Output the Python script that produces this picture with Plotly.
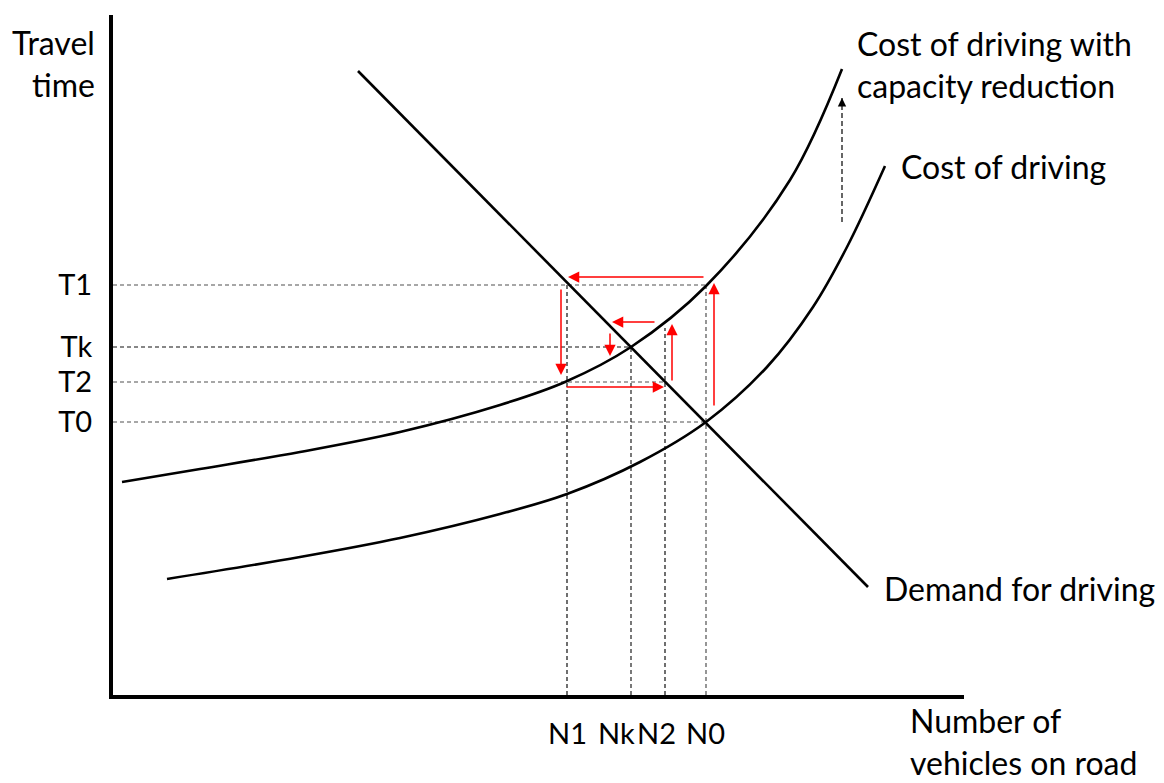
import plotly.graph_objects as go

# ---- schematic data (arbitrary units: x = vehicles on road, y = travel time) ----
N_LABELS = ["N1", "Nk", "N2", "N0"]
N_VALUES = [45.4, 51.8, 55.2, 59.3]
N_LABEL_SHIFT = [0, -15, -9, -1]

T_LABELS = ["T1", "Tk", "T2", "T0"]
T_VALUES = [41.0, 34.8, 31.3, 27.3]

# demand for driving (straight line)
demand_x = [24.5, 75.5]
demand_y = [62.4, 10.8]

# cost of driving
cost_x = [5.4, 18.7, 28.7, 38.7, 45.4, 52.7, 59.3, 65.4, 70.0, 73.4, 77.2]
cost_y = [11.6, 13.8, 15.7, 18.1, 20.1, 23.3, 27.3, 32.8, 38.8, 44.8, 52.9]

# cost of driving with capacity reduction
cap_x = [0.9, 8.7, 18.7, 28.7, 38.7, 45.2, 51.8, 59.3, 67.7, 72.9]
cap_y = [21.3, 22.6, 24.3, 26.3, 29.0, 31.3, 34.8, 40.9, 51.5, 62.6]

# guide lines
h_guide_y = T_VALUES
h_guide_xend = [59.3, 51.8, 55.2, 59.3]
h_guide_color = ["#505050", "#101010", "#505050", "#505050"]
v_guide_x = N_VALUES
v_guide_ytop = [41.0, 34.8, 36.7, 41.2]
v_guide_color = ["#101010", "#202020", "#101010", "#505050"]

# adjustment arrows (x0, y0) -> (x1, y1)
arrow_x0 = [60.1, 59.2, 44.8, 45.2, 55.9, 54.3, 49.7]
arrow_y0 = [28.8, 41.8, 40.7, 30.8, 31.3, 37.3, 36.3]
arrow_x1 = [60.1, 45.5, 44.8, 55.1, 55.9, 49.9, 49.7]
arrow_y1 = [41.2, 41.8, 32.0, 30.8, 37.1, 37.3, 33.9]

# capacity-reduction shift arrow
shift_x = [72.9, 72.9]
shift_y = [47.3, 59.7]

FONT = "Lato, Calibri, Carlito, sans-serif"
FS = 32
TICK_FS = 29

fig = go.Figure()

for y, xe, c in zip(h_guide_y, h_guide_xend, h_guide_color):
    fig.add_trace(go.Scatter(x=[0, xe], y=[y, y], mode="lines",
                             line=dict(color=c, width=1.2, dash="4px,3px"),
                             hoverinfo="skip", showlegend=False))
for x, yt, c in zip(v_guide_x, v_guide_ytop, v_guide_color):
    fig.add_trace(go.Scatter(x=[x, x], y=[0, yt], mode="lines",
                             line=dict(color=c, width=1.2, dash="4px,3px"),
                             hoverinfo="skip", showlegend=False))

fig.add_trace(go.Scatter(x=cost_x, y=cost_y, mode="lines",
                         line=dict(color="black", width=2.6, shape="spline"),
                         name="Cost of driving", showlegend=False))
fig.add_trace(go.Scatter(x=cap_x, y=cap_y, mode="lines",
                         line=dict(color="black", width=2.6, shape="spline"),
                         name="Cost of driving with capacity reduction", showlegend=False))
fig.add_trace(go.Scatter(x=demand_x, y=demand_y, mode="lines",
                         line=dict(color="black", width=2.6),
                         name="Demand for driving", showlegend=False))

fig.add_trace(go.Scatter(x=shift_x, y=shift_y, mode="lines",
                         line=dict(color="black", width=1.2, dash="5px,3px"),
                         hoverinfo="skip", showlegend=False))

annotations = []
for x0, y0, x1, y1 in zip(arrow_x0, arrow_y0, arrow_x1, arrow_y1):
    annotations.append(dict(x=x1, y=y1, ax=x0, ay=y0, xref="x", yref="y",
                            axref="x", ayref="y", text="", showarrow=True,
                            arrowhead=2, arrowsize=1.5, arrowwidth=1.5,
                            arrowcolor="#ff0000", standoff=0))
annotations.append(dict(x=shift_x[1], y=shift_y[1], ax=shift_x[1], ay=shift_y[1] - 0.6,
                        xref="x", yref="y", axref="x", ayref="y", text="",
                        showarrow=True, arrowhead=2, arrowsize=1.4, arrowwidth=1.2,
                        arrowcolor="black", standoff=0))

for lab, x, sh in zip(N_LABELS, N_VALUES, N_LABEL_SHIFT):
    annotations.append(dict(x=x, y=0, xref="x", yref="paper", text=lab,
                            showarrow=False, xanchor="center", yanchor="middle",
                            xshift=sh, yshift=-37,
                            font=dict(family=FONT, size=TICK_FS, color="black")))

def txt(text, px, py, xanchor="left", align="left"):
    return dict(x=(px - 113) / 851, y=(695 - py) / 680, xref="paper", yref="paper",
                text=text, showarrow=False, xanchor=xanchor, yanchor="middle",
                align=align, font=dict(family=FONT, size=FS, color="black"))

annotations += [
    txt("Travel<br>time", 97, 64, xanchor="right", align="right"),
    txt("Cost of driving with<br>capacity reduction", 855, 65),
    txt("Cost of driving", 899, 166),
    txt("Demand for driving", 882, 588),
    txt("Number of<br>vehicles on road", 908, 741),
]

fig.update_layout(
    width=1164, height=783,
    margin=dict(l=113, r=200, t=15, b=88),
    paper_bgcolor="white", plot_bgcolor="white",
    showlegend=False,
    annotations=annotations,
    font=dict(family=FONT, size=FS, color="black"),
)
fig.update_xaxes(range=[0, 85.1], showline=True, linewidth=4, linecolor="black",
                 showgrid=False, zeroline=False, showticklabels=False, ticks="",
                 fixedrange=True)
fig.update_yaxes(range=[0, 68.0], showline=True, linewidth=4, linecolor="black",
                 showgrid=False, zeroline=False, tickvals=T_VALUES, ticktext=T_LABELS,
                 ticks="", ticklabelstandoff=11,
                 tickfont=dict(family=FONT, size=TICK_FS, color="black"), fixedrange=True)

fig.write_html("out.html", config={"displayModeBar": False},
               post_script="document.body.style.margin='0';document.body.style.overflow='hidden';")
